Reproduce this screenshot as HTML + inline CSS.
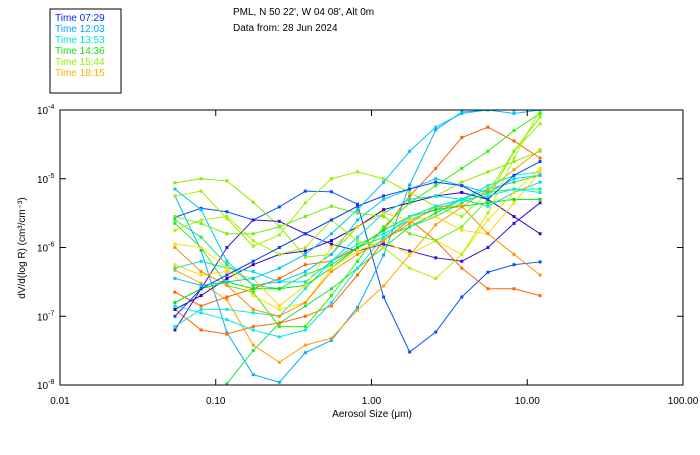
<!DOCTYPE html>
<html><head><meta charset="utf-8"><style>
body{margin:0;background:#fff;width:700px;height:450px;overflow:hidden;font-family:"Liberation Sans",sans-serif}
svg text{font-family:"Liberation Sans",sans-serif;font-size:10px}
</style></head><body>
<svg id="c" width="700" height="450">
<rect x="50" y="9" width="71" height="84" fill="none" stroke="#000"/>
<text x="233" y="15">PML, N 50 22', W 04 08', Alt 0m</text>
<text x="233" y="31">Data from: 28 Jun 2024</text>
<text x="372" y="417" text-anchor="middle">Aerosol Size (μm)</text>
<text transform="translate(25,248) rotate(-90)" text-anchor="middle">dV/d(log R) (cm³/cm⁻³)</text>
</svg>
<script>
const sizes=[0.0547,0.0805,0.118,0.174,0.256,0.376,0.553,0.813,1.196,1.758,2.585,3.80,5.59,8.22,12.09];
const xTicks=[0.01,0.1,1,10,100];
const xTickLabels=["0.01","0.10","1.00","10.00","100.00"];
const yTicksExp=[-4,-5,-6,-7,-8];
const legendLabels=["Time 07:29","Time 12:03","Time 13:53","Time 14:36","Time 15:44","Time 18:15"];
const legendColors=["#0028ff","#00a8ff","#00e8c0","#10e010","#90f000","#ffb000"];
const seriesColors=["#0050ff","#00b0ff","#20e040","#ffa000","#ff6000","#ff6a00","#90e800","#a0f000","#4010d0","#3000c0","#00e0e0","#00f0d0","#00c8ff","#20e860","#00e800","#30f000","#ffd800","#ffe000","#ff9000","#b0f000","#70f000","#1040f0","#00e8e8","#00c0ff"];
const seriesLog=[
[-5.56,-5.43,-5.48,-5.6,-5.41,-5.18,-5.19,-5.37,-6.72,-7.52,-7.23,-6.72,-6.36,-6.25,-6.21],
[-5.25,-6.04,-7.24,-7.85,-7.96,-7.53,-7.35,-6.87,-6.11,-5.09,-4.29,-4.03,-4.0,-4.0,-4.0],
[null,null,-7.98,-7.5,-7.1,-6.85,-6.6,-6.3,-6.0,-5.7,-5.5,-5.3,-5.15,-5.05,-4.95],
[-6.33,-6.52,-6.76,-7.42,-7.67,-7.42,-7.32,-6.91,-6.56,-6.11,-5.67,-5.41,-5.16,-4.87,-4.58],
[-6.65,-6.85,-6.72,-6.6,-6.45,-6.25,-6.2,-6.0,-5.75,-5.25,-4.85,-4.4,-4.25,-4.45,-4.7],
[-6.9,-7.2,-7.26,-7.15,-7.1,-7.0,-6.85,-6.4,-5.9,-5.6,-5.9,-6.3,-6.6,-6.6,-6.7],
[-5.06,-5.0,-5.03,-5.34,-5.69,-6.14,-6.1,-5.7,-5.45,-5.35,-5.25,-5.05,-4.9,-4.75,-4.6],
[-5.25,-5.18,-5.58,-5.98,-5.82,-5.35,-5.0,-4.9,-5.0,-5.2,-5.4,-5.55,-5.2,-4.6,-4.2],
[-7.2,-6.6,-6.0,-5.6,-5.62,-5.8,-5.95,-6.05,-5.95,-6.05,-6.15,-6.2,-6.0,-5.65,-5.35],
[-6.9,-6.7,-6.45,-6.25,-6.1,-6.05,-5.9,-5.7,-5.45,-5.35,-5.25,-5.2,-5.3,-5.55,-5.8],
[-6.3,-6.2,-6.3,-6.35,-6.5,-6.5,-6.2,-5.85,-5.5,-5.3,-5.25,-5.3,-5.4,-5.2,-5.05],
[-7.15,-6.9,-6.9,-6.95,-7.0,-6.6,-6.2,-5.95,-5.8,-5.6,-5.45,-5.3,-5.1,-4.95,-4.9],
[-5.15,-5.45,-6.2,-6.55,-6.5,-6.35,-6.1,-5.6,-5.3,-5.15,-5.0,-5.1,-5.2,-5.0,-4.95],
[-5.6,-5.85,-6.25,-6.55,-6.6,-6.4,-6.25,-6.0,-5.85,-5.7,-5.55,-5.35,-5.2,-5.15,-5.15],
[-6.8,-6.6,-6.5,-6.6,-6.6,-6.55,-6.3,-6.0,-5.75,-5.55,-5.45,-5.4,-5.35,-5.3,-5.3],
[-5.65,-6.0,-6.55,-6.65,-7.15,-7.15,-6.7,-6.2,-5.7,-5.35,-5.1,-4.85,-4.6,-4.3,-4.05],
[-6.25,-6.4,-6.35,-6.45,-6.85,-6.55,-6.0,-5.7,-5.5,-5.6,-5.55,-5.75,-5.8,-5.35,-4.9],
[-5.95,-6.0,-6.3,-6.7,-6.9,-6.8,-6.3,-6.05,-5.9,-6.1,-5.9,-6.1,-5.6,-5.2,-4.85],
[-6.0,-6.35,-6.55,-6.9,-7.0,-6.8,-6.35,-6.1,-5.9,-5.65,-5.4,-5.4,-5.8,-6.1,-6.4],
[-5.75,-5.6,-5.55,-5.9,-6.1,-6.0,-5.6,-5.9,-6.0,-6.3,-6.45,-6.1,-5.5,-4.7,-4.0],
[-5.55,-5.65,-5.8,-5.8,-5.7,-5.55,-5.4,-5.5,-5.55,-5.8,-5.9,-5.7,-5.3,-4.6,-4.1],
[-7.0,-6.6,-6.4,-6.2,-6.0,-5.8,-5.6,-5.4,-5.25,-5.15,-5.05,-5.1,-5.3,-4.95,-4.75],
[-6.85,-6.95,-7.05,-7.2,-7.3,-7.2,-6.8,-6.3,-5.85,-5.55,-5.4,-5.3,-5.25,-5.15,-5.2],
[-6.45,-6.55,-6.5,-6.45,-6.3,-6.1,-5.8,-5.45,-5.05,-4.6,-4.25,-4.05,-4.0,-4.05,-4.0]
];
const L=60,R=683,T=110,B=385;
const xS=v=>L+(Math.log10(v)+2)/4*(R-L);
const yS=e=>T+(-4-e)/4*(B-T);
const NS="http://www.w3.org/2000/svg";
const svg=document.getElementById('c');
function mk(t,a,p){const e=document.createElementNS(NS,t);for(const k in a)e.setAttribute(k,a[k]);(p||svg).appendChild(e);return e;}
const clip=mk('clipPath',{id:'pc'});mk('rect',{x:L,y:T,width:R-L,height:B-T},clip);
const g=mk('g',{'clip-path':'url(#pc)'});


seriesLog.forEach((s,i)=>{
  const col=seriesColors[i%seriesColors.length];
  let pts=[];s.forEach((e,j)=>{if(e!==null)pts.push([xS(sizes[j]),yS(e)]);});
  const pl=mk('polyline',{points:pts.map(p=>p.join(',')).join(' '),fill:'none',stroke:col,'stroke-width':1},g);
  
  
  pts.forEach(p=>{const r=mk('rect',{x:p[0]-1.5,y:p[1]-1.5,width:3,height:3,fill:col},g);
    
    });
});
const ax=mk('rect',{x:L,y:T,width:R-L,height:B-T,fill:'none',stroke:'#000','stroke-width':1});


xTicks.forEach((v,i)=>{const x=xS(v);
  mk('line',{x1:x,y1:B,x2:x,y2:B-6,stroke:'#000'});mk('line',{x1:x,y1:T,x2:x,y2:T+6,stroke:'#000'});
  const t=mk('text',{x:x,y:404,'text-anchor':'middle'});t.textContent=xTickLabels[i];
  
  });
yTicksExp.forEach(e=>{const y=yS(e);
  mk('line',{x1:L,y1:y,x2:L+6,y2:y,stroke:'#000'});mk('line',{x1:R,y1:y,x2:R-6,y2:y,stroke:'#000'});
  const t=mk('text',{x:37,y:y+4});t.innerHTML='10<tspan dy="-5" font-size="7">'+e+'</tspan>';
  
  });
legendLabels.forEach((l,i)=>{const t=mk('text',{x:55,y:21+i*11,fill:legendColors[i]});t.textContent=l;
  
  });
</script>
</body></html>
